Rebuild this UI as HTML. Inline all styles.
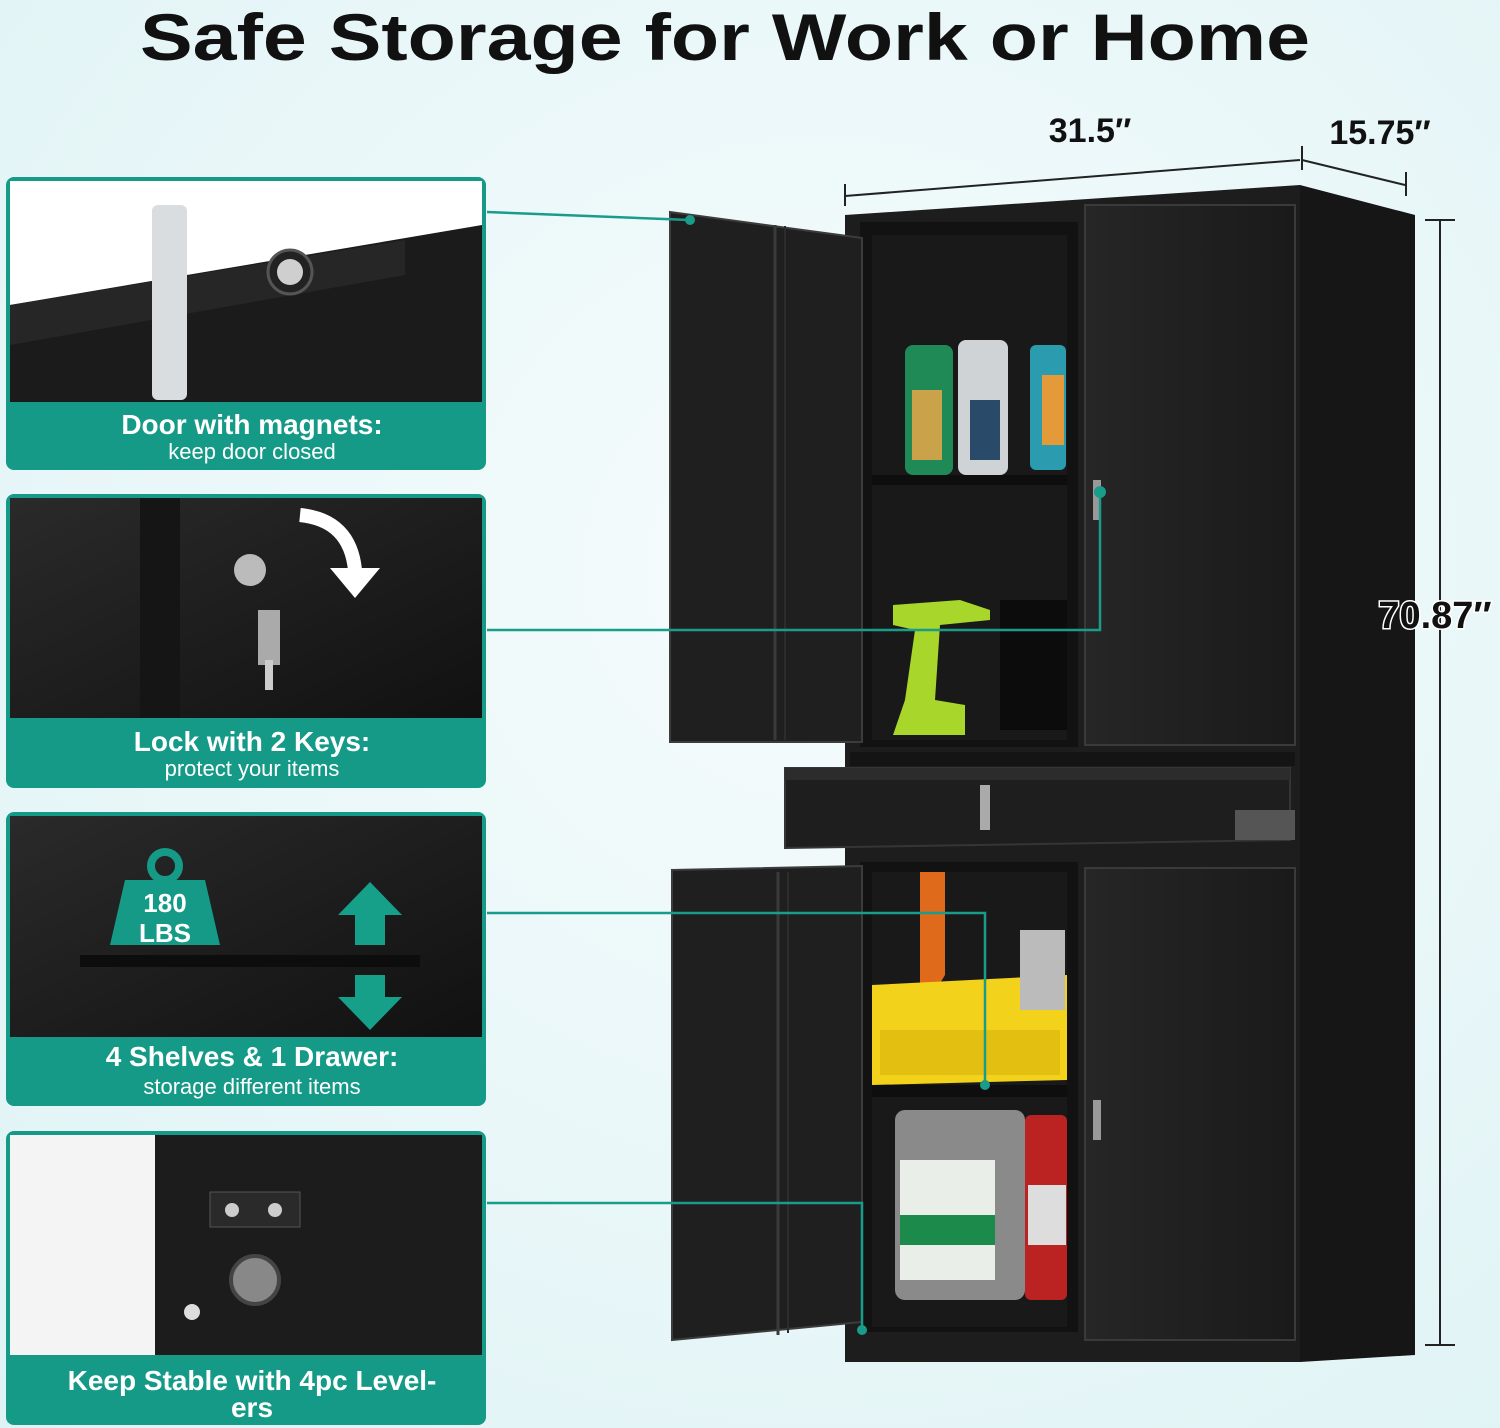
<!DOCTYPE html>
<html><head><meta charset="utf-8"><style>
html,body{margin:0;padding:0;width:1500px;height:1428px;overflow:hidden}
svg{display:block}
text{font-family:"Liberation Sans",sans-serif;font-weight:bold}
text.n{font-weight:normal}
</style></head><body>
<svg width="1500" height="1428" viewBox="0 0 1500 1428" xmlns="http://www.w3.org/2000/svg">
<defs>
<radialGradient id="bg" cx="0.55" cy="0.4" r="0.8"><stop offset="0" stop-color="#f6fcfd"/><stop offset="1" stop-color="#dff3f5"/></radialGradient>
<linearGradient id="ph" x1="0" y1="0" x2="1" y2="1"><stop offset="0" stop-color="#2a2a2a"/><stop offset="1" stop-color="#111"/></linearGradient>
<linearGradient id="door" x1="0" y1="0" x2="1" y2="0"><stop offset="0" stop-color="#262626"/><stop offset="1" stop-color="#1a1a1a"/></linearGradient>
</defs>
<rect width="1500" height="1428" fill="url(#bg)"/>
<text x="725" y="60" font-size="66" text-anchor="middle" fill="#111" textLength="1170" lengthAdjust="spacingAndGlyphs">Safe Storage for Work or Home</text>

<text x="1090" y="142" font-size="34" text-anchor="middle" fill="#111">31.5″</text>
<text x="1380" y="144" font-size="34" text-anchor="middle" fill="#111">15.75″</text>
<g stroke="#222" stroke-width="2" fill="none">
<line x1="845" y1="196" x2="1300" y2="160"/><line x1="845" y1="184" x2="845" y2="206"/><line x1="1302" y1="146" x2="1302" y2="170"/>
<line x1="1302" y1="160" x2="1405" y2="185"/><line x1="1406" y1="172" x2="1406" y2="196"/>
<line x1="1440" y1="220" x2="1440" y2="1345"/><line x1="1425" y1="220" x2="1455" y2="220"/><line x1="1425" y1="1345" x2="1455" y2="1345"/>
</g>

<polygon points="1300,185 1415,215 1415,1355 1300,1362" fill="#161616"/>
<polygon points="845,215 1300,185 1300,1362 845,1362" fill="#1d1d1d"/>
<rect x="860" y="222" width="218" height="525" fill="#121212"/>
<rect x="872" y="235" width="195" height="505" fill="#191919"/>
<rect x="872" y="475" width="195" height="10" fill="#0e0e0e"/>
<rect x="905" y="345" width="48" height="130" rx="8" fill="#1f8a55"/><rect x="912" y="390" width="30" height="70" fill="#c9a24a"/>
<rect x="958" y="340" width="50" height="135" rx="8" fill="#cfd3d6"/><rect x="970" y="400" width="30" height="60" fill="#2a4a6a"/>
<rect x="1030" y="345" width="36" height="125" rx="6" fill="#2b9bb0"/><rect x="1042" y="375" width="22" height="70" fill="#e59a3a"/>
<rect x="1000" y="600" width="67" height="130" fill="#0c0c0c"/>
<polygon points="893,605 960,600 990,610 990,620 940,625 935,700 965,705 965,735 893,735 905,700 915,630 893,625" fill="#a8d62a"/>
<rect x="1085" y="205" width="210" height="540" fill="url(#door)" stroke="#3a3a3a" stroke-width="2"/>
<rect x="1093" y="480" width="8" height="40" fill="#999"/>
<polygon points="670,212 862,238 862,742 670,742" fill="#1f1f1f" stroke="#3c3c3c" stroke-width="2"/>
<line x1="775" y1="225" x2="775" y2="740" stroke="#3a3a3a" stroke-width="3"/>
<line x1="785" y1="226" x2="785" y2="740" stroke="#2c2c2c" stroke-width="2"/>
<rect x="850" y="752" width="445" height="14" fill="#141414"/>
<polygon points="785,768 1290,768 1290,840 785,848" fill="#1e1e1e" stroke="#353535" stroke-width="2"/>
<rect x="785" y="768" width="505" height="12" fill="#2c2c2c"/>
<rect x="980" y="785" width="10" height="45" fill="#aaa"/>
<rect x="1235" y="810" width="60" height="30" fill="#555"/>
<rect x="860" y="862" width="218" height="470" fill="#121212"/>
<rect x="872" y="872" width="195" height="455" fill="#191919"/>
<rect x="872" y="1085" width="195" height="12" fill="#0e0e0e"/>
<polygon points="920,872 945,872 945,975 930,1000 920,990" fill="#e06a1c"/>
<polygon points="872,985 1067,975 1067,1080 872,1085" fill="#f2d21a"/>
<rect x="880" y="1030" width="180" height="45" fill="#e2bf10"/>
<rect x="1020" y="930" width="45" height="80" fill="#bbb"/>
<rect x="895" y="1110" width="130" height="190" rx="10" fill="#8a8a8a"/><rect x="900" y="1160" width="95" height="120" fill="#e9eee8"/><rect x="900" y="1215" width="95" height="30" fill="#1b8a4a"/>
<rect x="1025" y="1115" width="42" height="185" rx="6" fill="#b22"/><rect x="1028" y="1185" width="38" height="60" fill="#ddd"/>
<rect x="1085" y="868" width="210" height="472" fill="url(#door)" stroke="#3a3a3a" stroke-width="2"/>
<rect x="1093" y="1100" width="8" height="40" fill="#999"/>
<polygon points="672,870 862,866 862,1322 672,1340" fill="#1f1f1f" stroke="#3c3c3c" stroke-width="2"/>
<line x1="778" y1="872" x2="778" y2="1335" stroke="#3a3a3a" stroke-width="3"/>
<line x1="788" y1="872" x2="788" y2="1333" stroke="#2c2c2c" stroke-width="2"/>

<text x="1435" y="628" font-size="38" text-anchor="middle" fill="#111" stroke="#fff" stroke-width="3" paint-order="stroke">70.87″</text>

<g>
<rect x="6" y="177" width="480" height="293" rx="8" fill="#169a88"/>
<rect x="10" y="181" width="472" height="221" fill="#fff"/>
<polygon points="10,305 482,225 482,402 10,402" fill="#1b1b1b"/>
<polygon points="10,305 405,240 405,275 10,345" fill="#262626"/>
<rect x="152" y="205" width="35" height="195" rx="6" fill="#dadde0"/>
<circle cx="290" cy="272" r="22" fill="#222" stroke="#555" stroke-width="3"/><circle cx="290" cy="272" r="13" fill="#cfcfcf"/>
<text x="252" y="434" font-size="28" text-anchor="middle" fill="#fff">Door with magnets:</text>
<text class="n" x="252" y="459" font-size="22" text-anchor="middle" fill="#fff">keep door closed</text>

<rect x="6" y="494" width="480" height="294" rx="8" fill="#169a88"/>
<rect x="10" y="498" width="472" height="220" fill="url(#ph)"/>
<rect x="140" y="498" width="40" height="220" fill="#151515"/>
<circle cx="250" cy="570" r="16" fill="#bbb"/><rect x="258" y="610" width="22" height="55" fill="#aaa"/><rect x="265" y="660" width="8" height="30" fill="#ccc"/>
<path d="M300 515 Q350 520 355 570" stroke="#fff" stroke-width="14" fill="none"/><polygon points="330,568 380,568 355,598" fill="#fff"/>
<text x="252" y="751" font-size="28" text-anchor="middle" fill="#fff">Lock with 2 Keys:</text>
<text class="n" x="252" y="776" font-size="22" text-anchor="middle" fill="#fff">protect your items</text>

<rect x="6" y="812" width="480" height="294" rx="8" fill="#169a88"/>
<rect x="10" y="816" width="472" height="221" fill="url(#ph)"/>
<rect x="80" y="955" width="340" height="12" fill="#0d0d0d"/>
<polygon points="125,880 205,880 220,945 110,945" fill="#169a88"/><circle cx="165" cy="866" r="14" fill="none" stroke="#169a88" stroke-width="8"/>
<text x="165" y="912" font-size="26" text-anchor="middle" fill="#fff">180</text><text x="165" y="942" font-size="26" text-anchor="middle" fill="#fff">LBS</text>
<polygon points="370,882 402,915 385,915 385,945 355,945 355,915 338,915" fill="#16a08a"/>
<polygon points="370,1030 402,997 385,997 385,975 355,975 355,997 338,997" fill="#16a08a"/>
<text x="252" y="1066" font-size="28" text-anchor="middle" fill="#fff">4 Shelves &amp; 1 Drawer:</text>
<text class="n" x="252" y="1094" font-size="22" text-anchor="middle" fill="#fff">storage different items</text>

<rect x="6" y="1131" width="480" height="294" rx="8" fill="#169a88"/>
<rect x="10" y="1135" width="472" height="220" fill="#f4f4f4"/>
<polygon points="155,1135 482,1135 482,1355 155,1355" fill="#1c1c1c"/>
<rect x="210" y="1192" width="90" height="35" fill="#2a2a2a" stroke="#555"/>
<circle cx="232" cy="1210" r="7" fill="#ccc"/><circle cx="275" cy="1210" r="7" fill="#ccc"/>
<circle cx="255" cy="1280" r="24" fill="#888" stroke="#444" stroke-width="4"/>
<circle cx="192" cy="1312" r="8" fill="#ddd"/>
<text x="252" y="1390" font-size="28" text-anchor="middle" fill="#fff">Keep Stable with 4pc Level-</text>
<text x="252" y="1417" font-size="28" text-anchor="middle" fill="#fff">ers</text>
</g>

<g stroke="#1a9c8a" stroke-width="2.5" fill="none">
<polyline points="487,212 690,220"/>
<polyline points="487,630 1100,630 1100,492"/>
<polyline points="487,913 985,913 985,1085"/>
<polyline points="487,1203 862,1203 862,1330"/>
</g>
<g fill="#1a9c8a">
<circle cx="690" cy="220" r="5"/><circle cx="1100" cy="492" r="6"/><circle cx="985" cy="1085" r="5"/><circle cx="862" cy="1330" r="5"/>
</g>
</svg>
</body></html>
